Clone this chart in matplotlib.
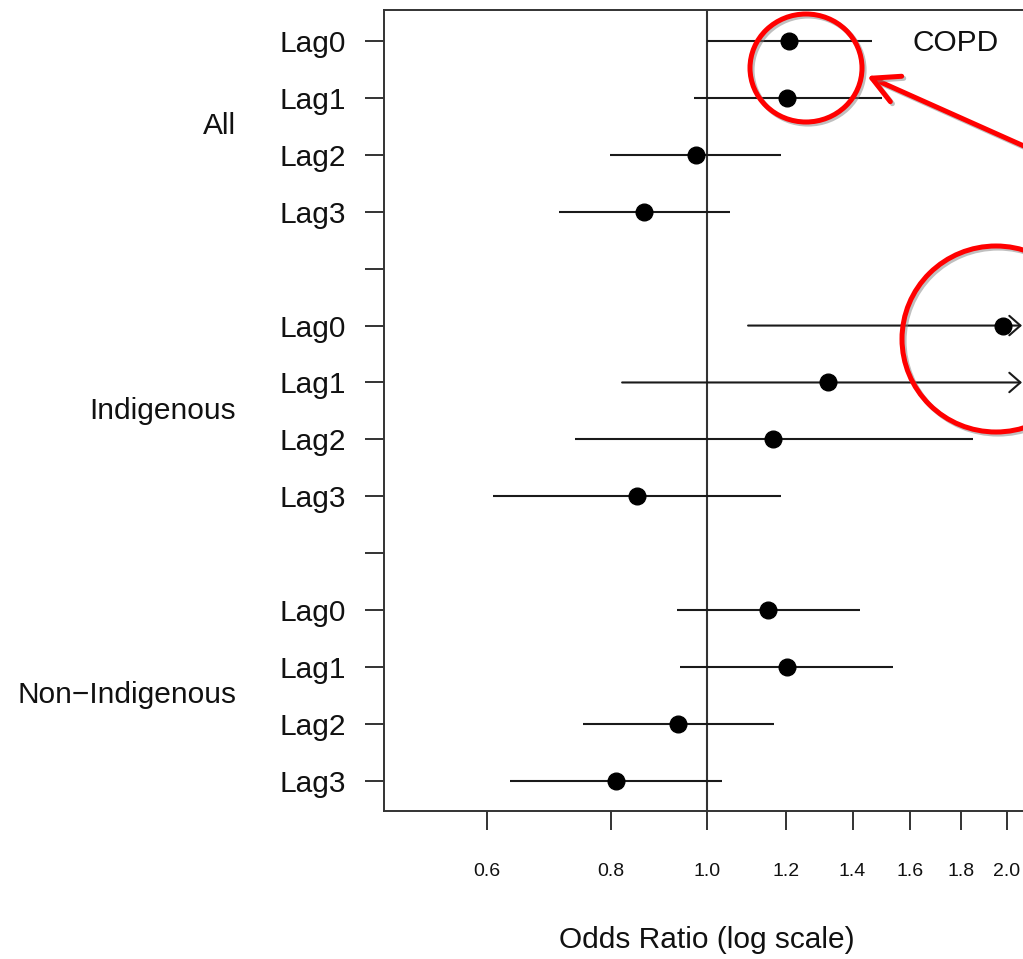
import numpy as np
import matplotlib
matplotlib.use("Agg")
import matplotlib.pyplot as plt
from matplotlib.patches import Ellipse
from matplotlib.ticker import FixedLocator, NullLocator, FixedFormatter
import matplotlib.patheffects as pe

plt.rcParams['font.family'] = ['Liberation Sans', 'DejaVu Sans']

# ---------------- data ----------------
groups = ["All", "Indigenous", "Non\u2212Indigenous"]
lags = ["Lag0", "Lag1", "Lag2", "Lag3"]

or_all = [1.208, 1.203, 0.974, 0.864]
lo_all = [1.000, 0.970, 0.798, 0.709]
hi_all = [1.464, 1.499, 1.186, 1.054]

or_ind = [1.983, 1.322, 1.164, 0.850]
lo_ind = [1.099, 0.821, 0.736, 0.609]
hi_ind = [3.600, 2.130, 1.850, 1.186]

or_non = [1.151, 1.203, 0.934, 0.809]
lo_non = [0.932, 0.939, 0.750, 0.633]
hi_non = [1.424, 1.537, 1.167, 1.035]

xticks = [0.6, 0.8, 1.0, 1.2, 1.4, 1.6, 1.8, 2.0]
xtick_labels = ["0.6", "0.8", "1.0", "1.2", "1.4", "1.6", "1.8", "2.0"]
panel_label = "COPD"
xlabel = "Odds Ratio (log scale)"

# ---------------- figure ----------------
W, H = 1023, 959
fig = plt.figure(figsize=(W / 100, H / 100), dpi=100)
ax = fig.add_axes([384 / W, 148 / H, 661 / W, 801 / H])

ax.set_xscale('log')
x_lo = np.exp((384 - 707.3) / 431.9)
x_hi = np.exp((1045 - 707.3) / 431.9)
ax.set_xlim(x_lo, x_hi)
arrow_limit = np.exp((1022 - 707.3) / 431.9)

estimates = [or_all, or_ind, or_non]
lowers = [lo_all, lo_ind, lo_non]
uppers = [hi_all, hi_ind, hi_non]

n_per = len(lags)
positions = []
ytick_pos = []
ytick_lab = []
pos = 0
for g in range(len(groups)):
    for k in range(n_per):
        positions.append(pos)
        ytick_pos.append(pos)
        ytick_lab.append(lags[k])
        pos += 1
    if g < len(groups) - 1:
        ytick_pos.append(pos)
        ytick_lab.append("")
        pos += 1

line_col = '#1a1a1a'
txt_col = '#111111'
i = 0
for g in range(len(groups)):
    for k in range(n_per):
        y = positions[i]
        est, lo, hi = estimates[g][k], lowers[g][k], uppers[g][k]
        if hi > arrow_limit:
            ax.annotate('', xy=(arrow_limit, y), xytext=(lo, y),
                        xycoords='data', textcoords='data',
                        arrowprops=dict(arrowstyle='->,head_length=0.4,head_width=0.35',
                                        lw=1.5, color=line_col, mutation_scale=20,
                                        shrinkA=0, shrinkB=0), zorder=2)
        else:
            ax.plot([lo, hi], [y, y], color=line_col, lw=1.5, solid_capstyle='butt', zorder=2)
        ax.plot(est, y, 'o', color='black', markersize=12, zorder=3)
        i += 1

ax.axvline(1.0, color='#333333', lw=1.5, zorder=1)

ax.set_ylim(max(ytick_pos) + 0.53, -0.545)
ax.yaxis.set_major_locator(FixedLocator(ytick_pos))
ax.yaxis.set_major_formatter(FixedFormatter(ytick_lab))
ax.xaxis.set_major_locator(FixedLocator(xticks))
ax.xaxis.set_major_formatter(FixedFormatter(xtick_labels))
ax.xaxis.set_minor_locator(NullLocator())

ax.tick_params(axis='y', length=13.7, width=1.4, pad=13.5, labelsize=21.5, colors='#333333', labelcolor=txt_col)
ax.tick_params(axis='x', length=13.7, width=1.4, pad=24, labelsize=14, colors='#333333', labelcolor=txt_col)

for s in ['left', 'top', 'bottom', 'right']:
    ax.spines[s].set_linewidth(1.4)
    ax.spines[s].set_color('#333333')

# group labels
for g, name in enumerate(groups):
    ymid = (positions[g * n_per + 1] + positions[g * n_per + 2]) / 2
    ax.text(-(384 - 236) / 661, ymid, name, transform=ax.get_yaxis_transform(),
            ha='right', va='center', fontsize=21.5, color=txt_col)

fig.text(707 / W, 1 - 940 / H, xlabel, ha='center', va='center', fontsize=21.5, color=txt_col)
fig.text(912 / W, 1 - 43 / H, panel_label, ha='left', va='center', fontsize=21.5, color=txt_col)

# ---------------- red annotations ----------------
shadow = [pe.SimpleLineShadow(offset=(1.5, -1.5), shadow_color='gray', alpha=0.5), pe.Normal()]
c1 = Ellipse((806 / W, 1 - 68 / H), 112 / W, 108 / H, transform=fig.transFigure,
             fill=False, edgecolor='#ff0000', lw=3.6, zorder=10)
c1.set_path_effects(shadow)
fig.patches.append(c1)
c2 = Ellipse((996 / W, 1 - 339 / H), 188 / W, 186 / H, transform=fig.transFigure,
             fill=False, edgecolor='#ff0000', lw=3.6, zorder=10)
c2.set_path_effects(shadow)
fig.patches.append(c2)

arr = ax.annotate('', xy=(867, H - 76), xytext=(1100, H - 180),
                  xycoords='figure pixels', textcoords='figure pixels',
                  arrowprops=dict(arrowstyle='->,head_length=0.95,head_width=0.5',
                                  lw=3.6, color='#ff0000', mutation_scale=20,
                                  shrinkA=0, shrinkB=0), annotation_clip=False)
arr.arrow_patch.set_path_effects(shadow)

fig.savefig('out.png', dpi=100)
